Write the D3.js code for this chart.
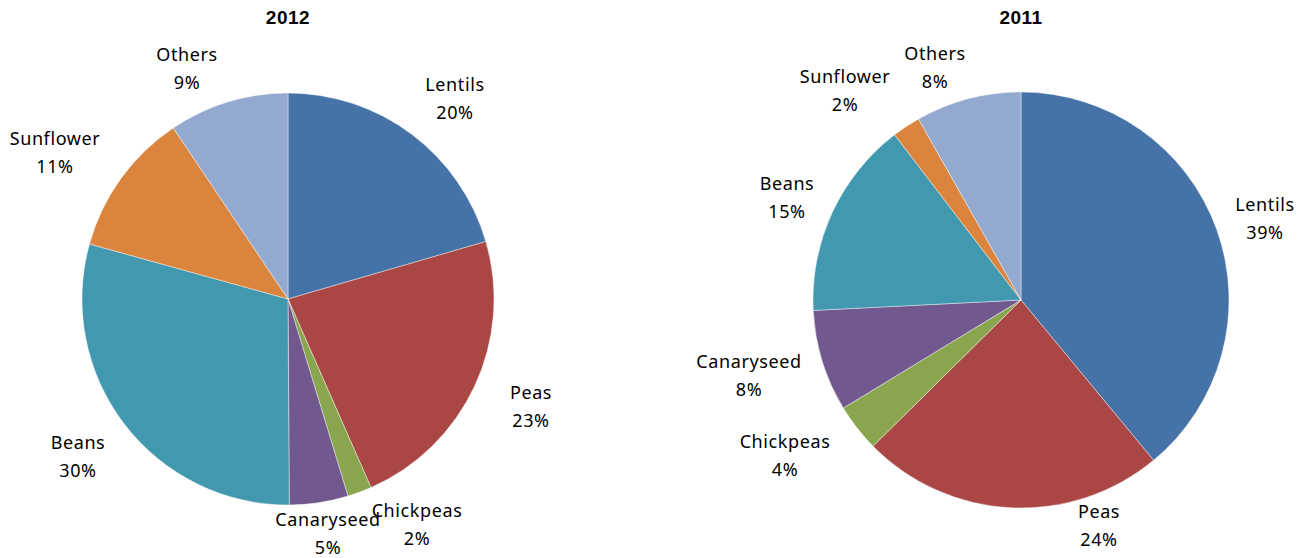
<!DOCTYPE html>
<html><head><meta charset="utf-8">
<script src="https://cdn.jsdelivr.net/npm/d3@7"></script>
<style>body{margin:0;background:#fff}svg{display:block}</style>
</head><body>
<svg id="c" width="1302" height="558"></svg>
<script>
const categories = ["Lentils","Peas","Chickpeas","Canaryseed","Beans","Sunflower","Others"];
const values2012 = [20.5, 22.9, 1.9, 4.6, 29.4, 11.3, 9.4];
const values2011 = [39.0, 23.6, 3.7, 7.9, 15.4, 2.2, 8.2];
const pctLabels2012 = ["20%","23%","2%","5%","30%","11%","9%"];
const pctLabels2011 = ["39%","24%","4%","8%","15%","2%","8%"];
const colors = ["#4572A7","#AA4643","#89A54E","#71588F","#4198AF","#DB843D","#93A9CF"];

const svg = d3.select("#c");
const color = d3.scaleOrdinal().domain(categories).range(colors);

// label anchor positions (center of the two-line label block)
const labelPos2012 = [[455,99],[531,407],[417,525],[328,534],[78,457],[55,153],[187,69]];
const labelPos2011 = [[1265,219],[1099,526],[785,456],[749,376],[787,198],[845,91],[935,68]];

function drawPie(title, vals, pcts, cx, cy, r, labelPos) {
  const g = svg.append("g");
  const data = categories.map((c,i)=>({cat:c, v:vals[i], pct:pcts[i], lp:labelPos[i]}));
  const pie = d3.pie().sort(null).value(d=>d.v);
  const arc = d3.arc().innerRadius(0).outerRadius(r);
  const pg = g.append("g").attr("transform",`translate(${cx},${cy})`);
  pg.selectAll("path").data(pie(data)).join("path")
    .attr("d", arc).attr("fill", d=>color(d.data.cat))
    .attr("stroke","#ffffff").attr("stroke-width",0.6).attr("stroke-opacity",0.7);
  g.append("text").attr("x",cx).attr("y",24).attr("text-anchor","middle")
    .attr("font-family","Liberation Sans, Arial, sans-serif").attr("font-weight","bold")
    .attr("font-size",19).attr("letter-spacing","0.5px").attr("fill","#000").text(title);
  const lg = g.selectAll("g.lbl").data(data).join("g").attr("class","lbl");
  lg.append("text").attr("x",d=>d.lp[0]).attr("y",d=>d.lp[1]-8)
    .attr("text-anchor","middle").attr("font-family","Noto Sans, sans-serif")
    .attr("font-size",18).attr("letter-spacing","0.6px").attr("fill","#000").text(d=>d.cat);
  lg.append("text").attr("x",d=>d.lp[0]).attr("y",d=>d.lp[1]+20)
    .attr("text-anchor","middle").attr("font-family","Noto Sans, sans-serif")
    .attr("font-size",18).attr("letter-spacing","0.6px").attr("fill","#000").text(d=>d.pct);
}

drawPie("2012", values2012, pctLabels2012, 288, 299, 206, labelPos2012);
drawPie("2011", values2011, pctLabels2011, 1021, 300, 208, labelPos2011);
</script>
</body></html>
